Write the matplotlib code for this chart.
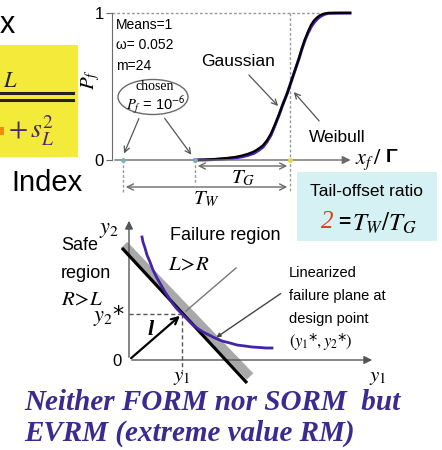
import matplotlib
matplotlib.use("Agg")
import matplotlib.pyplot as plt
from matplotlib.patches import Rectangle, Ellipse

plt.rcParams["mathtext.fontset"] = "stix"

# ---------------- data ----------------
# failure probability curves (x_f / Gamma, P_f)
curve_x = [0.495, 0.549, 0.603, 0.656, 0.710, 0.747, 0.780, 0.812, 0.839, 0.860,
           0.882, 0.903, 0.924, 0.946, 0.967, 0.989, 1.005, 1.021, 1.037, 1.053,
           1.069, 1.085, 1.102, 1.118, 1.134, 1.150, 1.166, 1.187, 1.209, 1.273, 1.327]
gauss_p = [0.0, 0.002, 0.006, 0.012, 0.020, 0.030, 0.042, 0.058, 0.080, 0.100,
           0.135, 0.180, 0.240, 0.310, 0.380, 0.450, 0.510, 0.570, 0.630, 0.690,
           0.760, 0.820, 0.875, 0.920, 0.950, 0.970, 0.985, 0.995, 1.0, 1.0, 1.0]
weib_p = [0.0, 0.001, 0.004, 0.008, 0.014, 0.022, 0.032, 0.046, 0.068, 0.088,
          0.125, 0.170, 0.235, 0.305, 0.380, 0.450, 0.510, 0.570, 0.630, 0.690,
          0.755, 0.815, 0.865, 0.905, 0.935, 0.958, 0.975, 0.990, 0.998, 1.0, 1.0]
mean_x = 1.005
yticks_top = [0, 1]

# limit-state geometry in the (y1, y2) plane
design_pt = (1.06, 0.92)
lin_y1 = [-0.14, 2.36]
lin_y2 = [2.24, -0.46]
band_y1 = [-0.10, 2.42]
band_y2 = [2.30, -0.33]
surf_y1 = [0.26, 0.28, 0.32, 0.36, 0.42, 0.48, 0.56, 0.64, 0.72, 0.80, 0.88, 0.96, 1.06, 1.16,
           1.26, 1.36, 1.48, 1.60, 1.72, 1.86, 2.02, 2.16, 2.32, 2.46, 2.62, 2.74, 2.86]
surf_y2 = [2.46, 2.36, 2.24, 2.10, 1.96, 1.80, 1.64, 1.50, 1.36, 1.24, 1.12, 1.02, 0.92, 0.82,
           0.72, 0.64, 0.56, 0.50, 0.44, 0.38, 0.34, 0.30, 0.28, 0.26, 0.25, 0.24, 0.24]

# ---------------- styling ----------------
W, H = 442, 450
PURPLE = "#4424a6"
TEXTPURPLE = "#3b2a90"
GREY = "#6a6a6a"
SANS = ["Liberation Sans", "DejaVu Sans"]
SERIF = ["Liberation Serif", "DejaVu Serif"]

fig = plt.figure(figsize=(W / 100, H / 100), dpi=100)
fig.patch.set_facecolor("white")

# overlay in pixel units for annotations
ov = fig.add_axes([0, 0, 1, 1], zorder=5)
ov.set_xlim(0, W)
ov.set_ylim(H, 0)
ov.axis("off")
ov.patch.set_alpha(0)


def pax(left, top, right, bottom):
    return [left / W, 1 - bottom / H, (right - left) / W, (bottom - top) / H]


# ---------------- left text / formula box ----------------
ov.text(0, 25, "x", fontsize=22, family=SANS, va="center", ha="left")
ov.add_patch(Rectangle((0, 45), 78, 112, facecolor="#f4ea3a", edgecolor="none", zorder=0))
ov.text(3, 81, "$L$", fontsize=16, va="center", ha="left", color="#222222")
ov.plot([0, 73], [93, 93], color="#222222", lw=2.2)
ov.plot([0, 73], [100, 100], color="#222222", lw=2.2)
ov.add_patch(Rectangle((0, 127), 4, 8, facecolor="#f08a10", edgecolor="none"))
ov.text(8, 131, "$+\\,s_L^2$", fontsize=20, color="#4a2a70", va="center", ha="left")
ov.text(11, 183, "Index", fontsize=21, family=SANS, va="center", ha="left")

# ---------------- top chart: P_f vs x_f/Gamma ----------------
ax1 = fig.add_axes(pax(112, 13, 345, 160))
ax1.set_xlim(0.05, 1.3)
ax1.set_ylim(0, 1)
for s in ["top", "right", "bottom"]:
    ax1.spines[s].set_visible(False)
ax1.spines["left"].set_color(GREY)
ax1.set_xticks([])
ax1.set_yticks(yticks_top)
ax1.set_yticklabels([str(v) for v in yticks_top], fontsize=12, family=SANS)
ax1.tick_params(axis="y", length=4, color=GREY, pad=2)
ax1.patch.set_alpha(0)

ax1.plot([0.05, 1.327], [1, 1], color="#999999", lw=1, ls=(0, (2, 1.5)), clip_on=False)
ax1.plot([mean_x, mean_x], [1, -0.21], color="#999999", lw=1, ls=(0, (2, 1.5)), clip_on=False)
ax1.plot(curve_x, weib_p, color=PURPLE, lw=2.2, clip_on=False)
ax1.plot(curve_x, gauss_p, color="black", lw=1.6, clip_on=False)
ax1.annotate("", xy=(1.345, 0), xytext=(0.05, 0),
             arrowprops=dict(arrowstyle="-|>", color=GREY, lw=1, mutation_scale=12),
             annotation_clip=False)

ov.text(91, 80, "$P_f$", fontsize=15, rotation=90, va="center", ha="center")
ov.text(355, 160, "$x_f\\,/$", fontsize=16, va="center", ha="left")
ov.text(386, 158, "Γ", fontsize=14, fontweight="bold", family=SANS, va="center", ha="left")

ov.text(116, 25, "Means=1", fontsize=10, family=SANS, va="center")
ov.text(116, 45, "ω= 0.052", fontsize=10, family=SANS, va="center")
ov.text(116, 66, "m=24", fontsize=10, family=SANS, va="center")
ov.add_patch(Ellipse((153, 97), 70, 35, facecolor="white", edgecolor=GREY, lw=1))
ov.text(155, 87, "chosen", fontsize=10, family=SERIF, va="center", ha="center")
ov.text(156, 105, "$P_f$ = 10$^{\\mathsf{-6}}$", fontsize=10.5, family=SANS,
        va="center", ha="center")

arrow_kw = dict(arrowstyle="->", color="#555555", lw=0.9, mutation_scale=10)
ov.annotate("", xy=(123, 156), xytext=(140, 116), arrowprops=arrow_kw)
ov.annotate("", xy=(193, 157), xytext=(163, 116), arrowprops=arrow_kw)

ov.text(238, 62, "Gaussian", fontsize=12.5, family=SANS, va="center", ha="center")
ov.annotate("", xy=(280, 108), xytext=(247, 73), arrowprops=arrow_kw)
ov.text(337, 137, "Weibull", fontsize=12.5, family=SANS, va="center", ha="center")
ov.annotate("", xy=(292, 90), xytext=(321, 123), arrowprops=arrow_kw)

# tail offsets
dot_kw = dict(color="#999999", lw=1, ls=(0, (2, 1.5)))
ov.plot([123, 123], [160, 193], **dot_kw)
ov.plot([195, 195], [160, 183], **dot_kw)
ov.annotate("", xy=(290, 166), xytext=(195, 166),
            arrowprops=dict(arrowstyle="<->", color=GREY, lw=1, mutation_scale=11))
ov.annotate("", xy=(290, 187), xytext=(123, 187),
            arrowprops=dict(arrowstyle="<->", color=GREY, lw=1, mutation_scale=11))
ov.text(243, 178, "$T_G$", fontsize=15, va="center", ha="center")
ov.text(206, 199, "$T_W$", fontsize=15, va="center", ha="center")
ov.plot([123], [160], "o", color="#7fb0b0", ms=2.5)
ov.plot([195], [160], "o", color="#7fb0b0", ms=2.5)
ov.plot([290], [160], "o", color="#e8d840", ms=2.5)

ov.add_patch(Rectangle((297, 172), 140, 69, facecolor="#d6f1f4", edgecolor="none"))
ov.text(367, 191, "Tail-offset ratio", fontsize=12.5, family=SANS, va="center", ha="center")
ov.text(327, 222, "2", fontsize=18, color="#e03a1a", style="italic", family=SERIF,
        va="center", ha="center")
ov.text(338, 222, "=", fontsize=15, family=SANS, fontweight="bold", va="center", ha="left")
ov.text(352, 223, "$T_W/T_G$", fontsize=18, va="center", ha="left")

# ---------------- bottom chart: y1 / y2 plane ----------------
ax2 = fig.add_axes(pax(100, 215, 400, 395))
ax2.set_xlim(-0.58, 5.42)
ax2.set_ylim(-0.7, 2.9)
ax2.axis("off")
ax2.patch.set_alpha(0)

axis_kw = dict(arrowstyle="-|>", color="#555555", lw=1, mutation_scale=12)
ax2.annotate("", xy=(0, 2.84), xytext=(0, 0), arrowprops=axis_kw)
ax2.annotate("", xy=(4.92, 0), xytext=(0, 0), arrowprops=axis_kw)

ax2.plot([0, design_pt[0]], [design_pt[1], design_pt[1]], color="#555555", lw=1, ls=(0, (3, 2)))
ax2.plot([design_pt[0], design_pt[0]], [design_pt[1], -0.22], color="#555555", lw=1,
         ls=(0, (3, 2)))

ax2.plot(band_y1, band_y2, color="#a8a8a8", lw=6.5, solid_capstyle="butt", zorder=2)
ax2.plot(lin_y1, lin_y2, color="black", lw=2.3, solid_capstyle="butt", zorder=3)
ax2.plot(surf_y1, surf_y2, color=PURPLE, lw=2, zorder=4)
ax2.annotate("", xy=design_pt, xytext=(0, 0),
             arrowprops=dict(arrowstyle="->", color="black", lw=1.6, mutation_scale=12))

ov.text(119, 230, "$y_2$", fontsize=16, va="center", ha="right")
ov.text(122, 362, "0", fontsize=12, family=SANS, va="center", ha="right")
ov.text(182, 377, "$y_1$", fontsize=15, va="center", ha="center")
ov.text(378, 377, "$y_1$", fontsize=15, va="center", ha="center")
ov.text(125, 316, "$y_2$*", fontsize=16, va="center", ha="right")
ov.text(151, 330, "l", fontsize=16, family=SERIF, style="italic", fontweight="bold",
        va="center", ha="center")

ov.text(61, 246, "Safe", fontsize=13, family=SANS, va="center", ha="left")
ov.text(61, 273, "region", fontsize=13, family=SANS, va="center", ha="left")
ov.text(61, 299, "$R\\!>\\!L$", fontsize=15, va="center", ha="left")
ov.text(170, 236, "Failure region", fontsize=13, family=SANS, va="center", ha="left")
ov.text(168, 264, "$L\\!>\\!R$", fontsize=15, va="center", ha="left")
ov.plot([236, 186], [268, 311], color="#777777", lw=1)

ov.text(289, 273, "Linearized", fontsize=10.5, family=SANS, va="center", ha="left")
ov.text(289, 296, "failure plane at", fontsize=10.5, family=SANS, va="center", ha="left")
ov.text(289, 319, "design point", fontsize=10.5, family=SANS, va="center", ha="left")
ov.text(289, 342, "$(y_1$*$, y_2$*$)$", fontsize=12, va="center", ha="left")
ov.annotate("", xy=(214, 339), xytext=(283, 292),
            arrowprops=dict(arrowstyle="-|>", color="#444444", lw=1, mutation_scale=6))

# ---------------- conclusion ----------------
ov.text(24, 403, "Neither FORM nor SORM  but", fontsize=21, family=SERIF, style="italic",
        fontweight="bold", color=TEXTPURPLE, va="center", ha="left")
ov.text(24, 433, "EVRM (extreme value RM)", fontsize=21, family=SERIF, style="italic",
        fontweight="bold", color=TEXTPURPLE, va="center", ha="left")

fig.savefig("out.png", dpi=100, facecolor="white")
